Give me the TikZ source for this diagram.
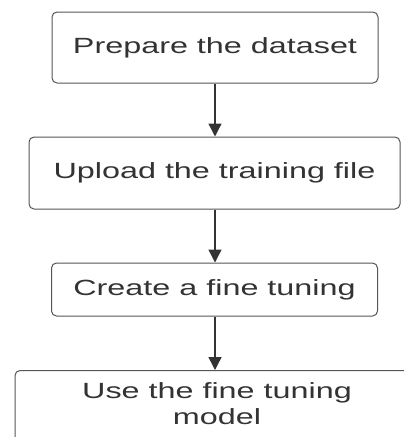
\documentclass[tikz,border=0pt]{standalone}
\usepackage{fontspec}
\usetikzlibrary{arrows.meta}
\newfontfamily\widefont[FakeStretch=1.47]{Liberation Sans}
\definecolor{boxline}{HTML}{555555}
\definecolor{txt}{HTML}{333333}
\definecolor{arrowc}{HTML}{333333}
\begin{document}
\begin{tikzpicture}[x=1pt,y=-1pt,
  stepbox/.style={draw=boxline, line width=1pt, rounded corners=5pt, fill=white,
    text=txt, font=\widefont\fontsize{22}{26}\selectfont, inner sep=0pt},
  flow/.style={draw=arrowc, line width=1.4pt, -{Triangle[width=13pt,length=13pt]}}]
\useasboundingbox (0,0) rectangle (404,437);
\clip (0,0) rectangle (404,437);
\node[stepbox, minimum width=326pt, minimum height=71pt] (a) at (215,47.5) {Prepare the dataset};
\node[stepbox, minimum width=371pt, minimum height=72pt] (b) at (214.5,173) {Upload the training file};
\node[stepbox, minimum width=326pt, minimum height=53pt] (c) at (214.5,289.5) {Create a fine tuning};
\node[stepbox, minimum width=402pt, minimum height=100pt, anchor=north] (d) at (216,370) {};
\node[text=txt, font=\widefont\fontsize{22}{26}\selectfont, align=center, inner sep=0pt] (dt) at (217,404) {Use the fine tuning\\model};
\draw[flow] (a.south -| 215,0) -- (b.north -| 215,0);
\draw[flow] (b.south -| 215,0) -- (c.north -| 215,0);
\draw[flow] (c.south -| 215,0) -- (d.north -| 215,0);
\end{tikzpicture}
\end{document}
